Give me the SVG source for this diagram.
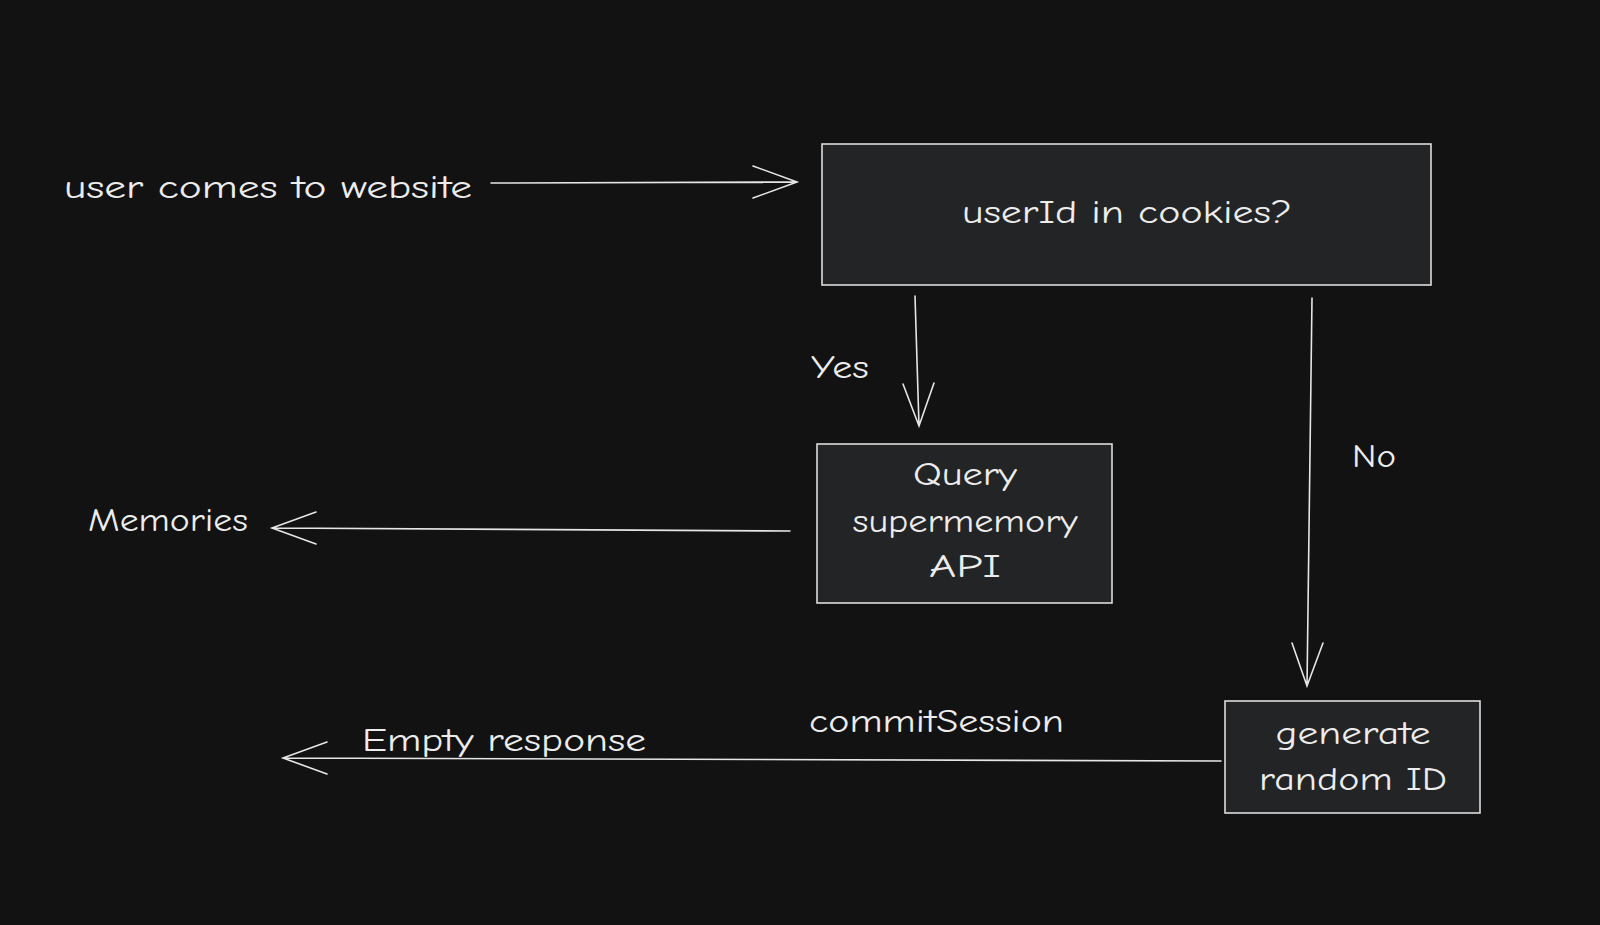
<svg xmlns="http://www.w3.org/2000/svg" width="1600" height="925" viewBox="0 0 1600 925">
<style>
.bx{fill:#232425;stroke:#dcdcdc;stroke-width:1.6}
.t{fill:#ececec;font-family:"Comic Neue","Open Sans","Liberation Sans",sans-serif;font-size:32px}
.m{text-anchor:middle}
.c{stroke:#e6e6e6;stroke-width:1.6;fill:none;stroke-linecap:round}
</style>
<rect width="1600" height="925" fill="#121212"/>
<g id="n-start"><text class="t" x="64" y="198" textLength="408" lengthAdjust="spacingAndGlyphs">user comes to website</text></g>
<g id="n-cookies"><rect class="bx" x="822" y="144" width="609" height="141"/><text class="t m" x="1127" y="223" textLength="330" lengthAdjust="spacingAndGlyphs">userId in cookies?</text></g>
<g id="n-query"><rect class="bx" x="817" y="444" width="295" height="159"/>
<text class="t m" x="965" y="485" textLength="104" lengthAdjust="spacingAndGlyphs">Query</text><text class="t m" x="965" y="532" textLength="225" lengthAdjust="spacingAndGlyphs">supermemory</text><text class="t m" x="965" y="577" textLength="72" lengthAdjust="spacingAndGlyphs">API</text></g>
<g id="n-gen"><rect class="bx" x="1225" y="701" width="255" height="112"/>
<text class="t m" x="1353" y="744" textLength="155" lengthAdjust="spacingAndGlyphs">generate</text><text class="t m" x="1353" y="790" textLength="188" lengthAdjust="spacingAndGlyphs">random ID</text></g>
<g id="n-mem"><text class="t" x="88" y="531" textLength="160" lengthAdjust="spacingAndGlyphs">Memories</text></g>
<g id="n-empty"><text class="t" x="362" y="751" textLength="284" lengthAdjust="spacingAndGlyphs">Empty response</text></g>
<g id="labels">
<text class="t" x="811" y="378" textLength="58" lengthAdjust="spacingAndGlyphs">Yes</text>
<text class="t" x="1352" y="467" textLength="44" lengthAdjust="spacingAndGlyphs">No</text>
<text class="t" x="809" y="732" textLength="255" lengthAdjust="spacingAndGlyphs">commitSession</text>
</g>
<g id="connectors">
<path class="c" d="M491 183 L797 182 M753 166 L797 182 L753 198"/>
<path class="c" d="M915 296 L919 426 M903 384 L919 426 L934 383"/>
<path class="c" d="M1312 298 L1307 686 M1292 643 L1307 686 L1323 643"/>
<path class="c" d="M790 531 L272 528 M316 512 L272 528 L316 544"/>
<path class="c" d="M1221 761 L283 758 M327 742 L283 758 L327 774"/>
</g>
</svg>
